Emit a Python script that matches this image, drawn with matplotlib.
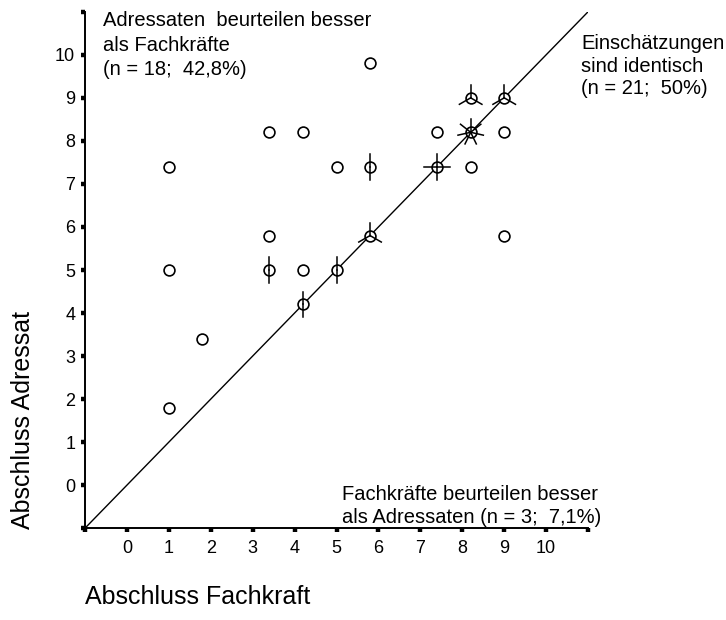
import numpy as np
import matplotlib
matplotlib.use("Agg")
import matplotlib.pyplot as plt

plt.rcParams['font.family'] = ['Liberation Sans', 'DejaVu Sans']

# Sunflower data: position (Fachkraft, Adressat) and number of cases
fachkraft = [1.0, 1.0, 1.0, 1.8, 3.4, 3.4, 3.4, 4.2, 4.2, 4.2, 5.0, 5.0, 5.8, 5.8, 5.8,
             7.4, 7.4, 8.2, 8.2, 8.2, 9.0, 9.0, 9.0]
adressat = [7.4, 5.0, 1.8, 3.4, 8.2, 5.8, 5.0, 8.2, 5.0, 4.2, 7.4, 5.0, 9.8, 7.4, 5.8,
            8.2, 7.4, 9.0, 8.2, 7.4, 9.0, 8.2, 5.8]
anzahl = [1, 1, 1, 1, 1, 1, 2, 1, 1, 2, 1, 2, 1, 2, 3,
          1, 4, 3, 7, 1, 3, 1, 1]

tick_pos = list(range(-1, 12))
tick_lab = [''] + [str(i) for i in range(0, 11)] + ['']

fig = plt.figure(figsize=(7.26, 6.2), dpi=100)
ax = fig.add_axes([0.117, 0.148, 0.693, 0.833])

# diagonal
ax.plot([-1, 11], [-1, 11], color='black', lw=1.0)

# circles
ax.plot(fachkraft, adressat, 'o', ms=7.8, mfc='white', mec='black', mew=1.2, zorder=3)

# petals
lx, ly = 0.31, 0.30
for x, y, n in zip(fachkraft, adressat, anzahl):
    if n < 2:
        continue
    for k in range(1, n + 1):
        ang = 2 * np.pi * k / n
        ax.plot([x, x + lx * np.sin(ang)], [y, y + ly * np.cos(ang)],
                color='black', lw=1.1, zorder=4)

ax.set_xlim(-1, 11)
ax.set_ylim(-1, 11)
ax.set_xticks(tick_pos)
ax.set_xticklabels(tick_lab)
ax.set_yticks(tick_pos)
ax.set_yticklabels(tick_lab)
ax.tick_params(direction='out', length=3, width=3.2, labelsize=13)
ax.tick_params(axis='x', pad=5.5)
ax.tick_params(axis='y', pad=4)
for s in ['top', 'right']:
    ax.spines[s].set_visible(False)
for s in ['left', 'bottom']:
    ax.spines[s].set_linewidth(1.4)

fig.text(0.117, 0.018, 'Abschluss Fachkraft', fontsize=18, ha='left', va='bottom')
fig.text(0.032, 0.323, 'Abschluss Adressat', fontsize=18, rotation=90, ha='center', va='center')

fig.text(103 / 726, 1 - 11 / 620, 'Adressaten  beurteilen besser\nals Fachkräfte\n(n = 18;  42,8%)',
         fontsize=14.5, ha='left', va='top', linespacing=1.38)
fig.text(581 / 726, 1 - 34 / 620, 'Einschätzungen\nsind identisch\n(n = 21;  50%)',
         fontsize=14.5, ha='left', va='top', linespacing=1.25)
fig.text(342 / 726, 1 - 527 / 620, 'Fachkräfte beurteilen besser\nals Adressaten (n = 3;  7,1%)',
         fontsize=14.5, ha='left', va='bottom', linespacing=1.3)

fig.savefig('out.png', dpi=100)
